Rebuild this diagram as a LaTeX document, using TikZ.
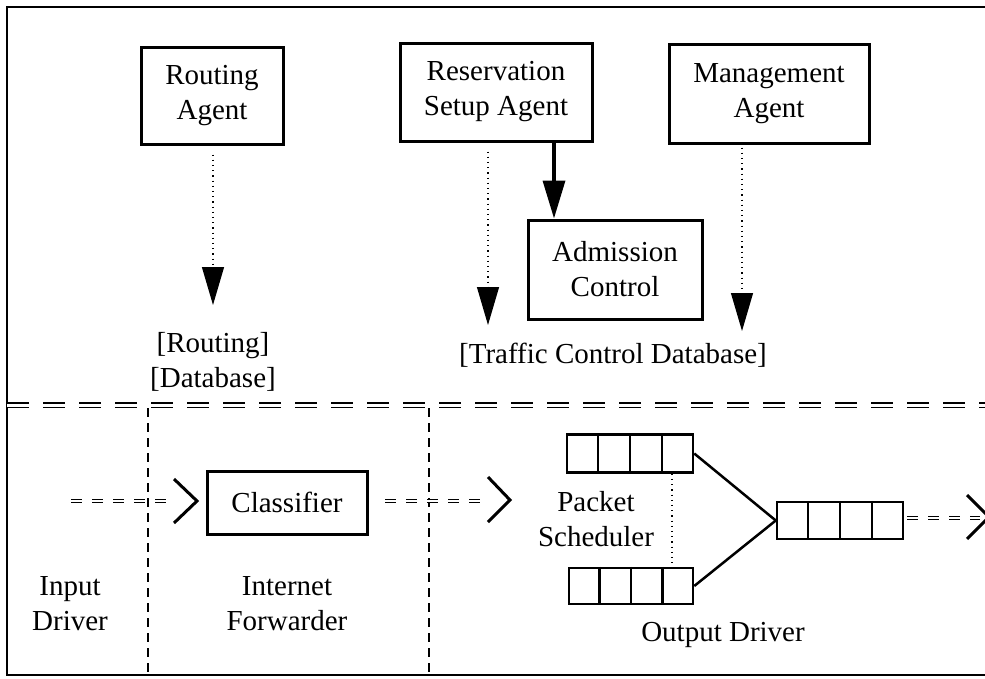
\documentclass[tikz,border=0pt]{standalone}
\usepackage{fontspec}
\setmainfont{Liberation Serif}
\usetikzlibrary{arrows.meta, calc}

\begin{document}
\begin{tikzpicture}[x=1pt, y=-1pt,
  every node/.style={font=\fontsize{29}{35}\selectfont, align=center, inner sep=0pt},
  agentbox/.style={draw, line width=3pt},
  queue/.style={draw, line width=2.5pt, minimum width=126pt, minimum height=38pt},
  dotarrow/.style={line width=1.2pt, dash pattern=on 1.2pt off 4pt, -{Triangle[length=38pt,width=22pt]}},
  thickarrow/.style={line width=3.5pt, -{Triangle[length=38pt,width=22pt]}},
  flow/.style={double, line width=0.9pt, double distance=2.4pt, dash pattern=on 11pt off 10pt},
  chevron/.style={line width=3pt, line join=miter},
  sep/.style={line width=1.2pt, dash pattern=on 9pt off 6pt},
  bigsep/.style={double, line width=1.2pt, double distance=3pt, dash pattern=on 22pt off 14pt}]
\useasboundingbox (0,0) rectangle (985,678);
\draw[line width=2.5pt] (985,7) -- (7,7) -- (7,675) -- (985,675);

% agents
\node[agentbox, minimum width=142pt, minimum height=97pt] (ra) at (212,95.5) {Routing\\Agent};
\node[agentbox, minimum width=192pt, minimum height=98pt] (rsa) at (496,92) {Reservation\\Setup Agent};
\node[agentbox, minimum width=200pt, minimum height=99pt] (ma) at (769,93.5) {Management\\Agent};
\node[agentbox, minimum width=174pt, minimum height=99pt] (ac) at (615,269.5) {Admission\\Control};

\node (rdb) at (213,362) {[Routing]\\{[Database]}};
\node (tcdb) at (613,355) {[Traffic Control Database]};

\coordinate (rtip) at (213,305);
\coordinate (rstip) at (488,325);
\coordinate (mtip) at (742,331);
\coordinate (acin) at ([xshift=-61pt]ac.north);

\draw[dotarrow] ([yshift=-9pt]rtip |- ra.south) -- (rtip);
\draw[dotarrow] ([yshift=-9pt]rstip |- rsa.south) -- (rstip);
\draw[dotarrow] ([yshift=-3pt]mtip |- ma.south) -- (mtip);
\draw[thickarrow] (acin |- rsa.south) -- (acin);

% separators
\draw[bigsep] (7,405) -- (985,405);
\draw[sep] (148,408) -- (148,675);
\draw[sep] (429,408) -- (429,675);

% data path
\node[agentbox, minimum width=160pt, minimum height=63pt] (cls) at (287,502.5) {Classifier};
\node (indrv) at (70,604) {Input\\Driver};
\node (fwd) at (287,604) {Internet\\Forwarder};

\coordinate (in0) at (71,501);
\coordinate (in1) at (168,501);
\draw[flow] (in0) -- (in1);
\draw[chevron] (174,479) -- (197,501) -- (174,523);

\coordinate (mid0) at (385,501);
\coordinate (mid1) at (483,501);
\draw[flow] (mid0) -- (mid1);
\draw[chevron] (488,477) -- (510,500) -- (488,522);

% packet scheduler
\node[queue] (qa) at (630,453.5) {};
\node[queue, minimum width=124pt, minimum height=36pt] (qb) at (631,586) {};
\node[queue, minimum height=37pt] (qc) at (840,520.5) {};
\foreach \q in {qa,qb,qc}
  \foreach \i in {1,2,3}
    \draw[line width=2.5pt] ($(\q.north west)!\i/4!(\q.north east)$) -- ($(\q.south west)!\i/4!(\q.south east)$);
\draw[line width=2.5pt] (qa.east) -- (qc.west);
\draw[line width=2.5pt] (qb.east) -- (qc.west);
\draw[line width=1.2pt, dash pattern=on 1.2pt off 4pt] (672,0 |- qa.south) -- (672,0 |- qb.north);

\node (psch) at (596,519) {Packet\\Scheduler};
\node (outdrv) at (723,635) {Output Driver};

\coordinate (out0) at (907,518);
\coordinate (out1) at (980,518);
\draw[flow] (out0) -- (out1);
\draw[chevron] (967,495) -- (989,517) -- (967,539);

\end{tikzpicture}
\end{document}
